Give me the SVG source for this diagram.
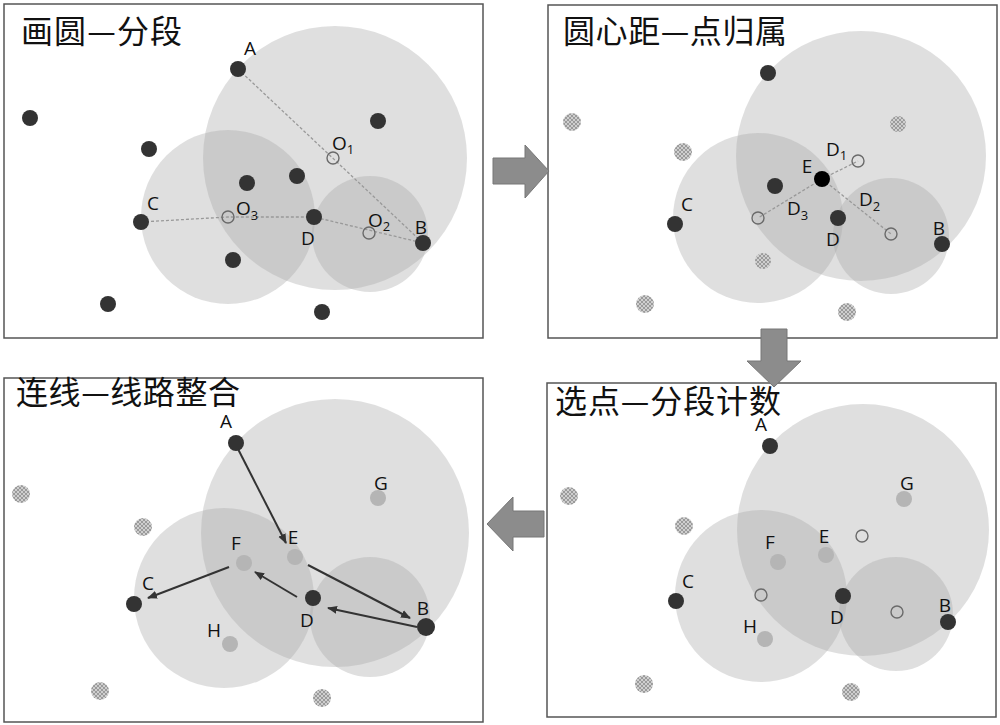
<svg xmlns="http://www.w3.org/2000/svg" width="1000" height="725" viewBox="0 0 1000 725">
<defs>
<style>
.frame{fill:#fff;stroke:#555;stroke-width:1.5}
.zone{fill:#a6a6a6;fill-opacity:0.36}
.dk{fill:#333}
.lt{fill:#b5b5b5}
.ht{fill:url(#hatch)}
.oc{fill:none;stroke:#6a6a6a;stroke-width:1.4}
.dash{stroke:#999;stroke-width:1.3;stroke-dasharray:3,2;fill:none}
.lbl{font-family:"Open Sans","Noto Sans",sans-serif;font-size:19px;fill:#111}
.sub{font-size:13px}
.ttl{font-family:"Noto Sans CJK SC","Noto Sans",sans-serif;font-size:32px;fill:#111}
.conn{stroke:#333;stroke-width:2;fill:none;marker-end:url(#ah)}
.blk{fill:#8c8c8c;stroke:#777;stroke-width:1}
</style>
<pattern id="hatch" patternUnits="userSpaceOnUse" width="4" height="4">
<rect width="4" height="4" fill="#cfcfcf"/>
<path d="M0,4 L4,0 M0,0 L4,4" stroke="#8e8e8e" stroke-width="0.8"/>
</pattern>
<marker id="ah" viewBox="0 0 10 10" refX="9" refY="5" markerWidth="5" markerHeight="5" orient="auto">
<path d="M0,1 L10,5 L0,9 Z" fill="#333"/>
</marker>
</defs>

<g id="panel1">
<rect class="frame" x="4" y="4" width="479" height="334"/>
<text class="ttl" x="21" y="43" textLength="161" lengthAdjust="spacing">画圆—分段</text>
<circle class="zone" cx="335" cy="158" r="132"/>
<circle class="zone" cx="228" cy="217" r="87"/>
<circle class="zone" cx="370" cy="234" r="58"/>
<g id="p1-lines">
<line class="dash" x1="238" y1="69" x2="423" y2="243"/>
<polyline class="dash" points="141,222 228,217 314,217 423,243"/>
</g>
<g id="p1-A"><circle class="dk" cx="238" cy="69" r="8"/><text class="lbl" x="250" y="55" text-anchor="middle">A</text></g>
<circle class="dk" cx="30" cy="118" r="8"/>
<circle class="dk" cx="149" cy="149" r="8"/>
<circle class="dk" cx="378" cy="121" r="8"/>
<circle class="dk" cx="247" cy="183" r="8"/>
<circle class="dk" cx="297" cy="176" r="8"/>
<g id="p1-C"><circle class="dk" cx="141" cy="222" r="8"/><text class="lbl" x="153" y="210" text-anchor="middle">C</text></g>
<g id="p1-D"><circle class="dk" cx="314" cy="217" r="8"/><text class="lbl" x="308" y="245" text-anchor="middle">D</text></g>
<g id="p1-B"><circle class="dk" cx="423" cy="243" r="8"/><text class="lbl" x="421" y="234" text-anchor="middle">B</text></g>
<circle class="dk" cx="233" cy="260" r="8"/>
<circle class="dk" cx="108" cy="304" r="8"/>
<circle class="dk" cx="322" cy="312" r="8"/>
<g id="p1-O1"><circle class="oc" cx="333" cy="158" r="6"/><text class="lbl" x="332" y="150">O<tspan class="sub" dy="4">1</tspan></text></g>
<g id="p1-O2"><circle class="oc" cx="369" cy="233" r="6"/><text class="lbl" x="368" y="227">O<tspan class="sub" dy="4">2</tspan></text></g>
<g id="p1-O3"><circle class="oc" cx="228" cy="217" r="6"/><text class="lbl" x="236" y="215">O<tspan class="sub" dy="5">3</tspan></text></g>
</g>

<g id="panel2">
<rect class="frame" x="548" y="5" width="449" height="333"/>
<text class="ttl" x="563" y="43" textLength="224" lengthAdjust="spacing">圆心距—点归属</text>
<circle class="zone" cx="861" cy="156" r="125"/>
<circle class="zone" cx="758" cy="218" r="85"/>
<circle class="zone" cx="891" cy="236" r="58"/>
<g id="p2-lines">
<line class="dash" x1="822" y1="179" x2="858" y2="161"/>
<line class="dash" x1="822" y1="179" x2="891" y2="234"/>
<line class="dash" x1="822" y1="179" x2="758" y2="218"/>
</g>
<circle class="dk" cx="768" cy="73" r="8"/>
<circle class="ht" cx="572" cy="122" r="9"/>
<circle class="ht" cx="683" cy="152" r="9"/>
<circle class="ht" cx="898" cy="124" r="8"/>
<circle class="dk" cx="775" cy="186" r="8"/>
<g id="p2-C"><circle class="dk" cx="675" cy="224" r="8"/><text class="lbl" x="687" y="211" text-anchor="middle">C</text></g>
<g id="p2-D"><circle class="dk" cx="838" cy="218" r="8"/><text class="lbl" x="833" y="246" text-anchor="middle">D</text></g>
<g id="p2-B"><circle class="dk" cx="942" cy="244" r="8"/><text class="lbl" x="939" y="235" text-anchor="middle">B</text></g>
<circle class="ht" cx="763" cy="261" r="8"/>
<circle class="ht" cx="645" cy="304" r="9"/>
<circle class="ht" cx="847" cy="312" r="9"/>
<g id="p2-O1"><circle class="oc" cx="858" cy="161" r="6"/><text class="lbl" x="826" y="156">D<tspan class="sub" dy="4">1</tspan></text></g>
<g id="p2-O2"><circle class="oc" cx="891" cy="234" r="6"/><text class="lbl" x="859" y="206">D<tspan class="sub" dy="5">2</tspan></text></g>
<g id="p2-O3"><circle class="oc" cx="758" cy="218" r="6"/><text class="lbl" x="787" y="215">D<tspan class="sub" dy="5">3</tspan></text></g>
<g id="p2-E"><circle cx="822" cy="179" r="8" fill="#000"/><text class="lbl" x="807" y="173" text-anchor="middle">E</text></g>
</g>

<g id="panel3">
<rect class="frame" x="4" y="378" width="479" height="344"/>
<text class="ttl" x="16" y="404" textLength="224" lengthAdjust="spacing">连线—线路整合</text>
<circle class="zone" cx="335" cy="533" r="134"/>
<circle class="zone" cx="224" cy="598" r="90"/>
<circle class="zone" cx="370" cy="617" r="60"/>
<circle class="ht" cx="21" cy="494" r="9"/>
<circle class="ht" cx="143" cy="527" r="9"/>
<circle class="ht" cx="100" cy="691" r="9"/>
<circle class="ht" cx="322" cy="698" r="9"/>
<g id="p3-A"><circle class="dk" cx="236" cy="443" r="8"/><text class="lbl" x="226" y="428" text-anchor="middle">A</text></g>
<g id="p3-G"><circle class="lt" cx="378" cy="498" r="8"/><text class="lbl" x="381" y="490" text-anchor="middle">G</text></g>
<g id="p3-E"><circle class="lt" cx="295" cy="557" r="8"/><text class="lbl" x="293" y="544" text-anchor="middle">E</text></g>
<g id="p3-F"><circle class="lt" cx="244" cy="563" r="8"/><text class="lbl" x="236" y="550" text-anchor="middle">F</text></g>
<g id="p3-C"><circle class="dk" cx="134" cy="604" r="8"/><text class="lbl" x="148" y="590" text-anchor="middle">C</text></g>
<g id="p3-D"><circle class="dk" cx="313" cy="598" r="8"/><text class="lbl" x="307" y="627" text-anchor="middle">D</text></g>
<g id="p3-B"><circle class="dk" cx="426" cy="627" r="9"/><text class="lbl" x="423" y="615" text-anchor="middle">B</text></g>
<g id="p3-H"><circle class="lt" cx="230" cy="644" r="8"/><text class="lbl" x="214" y="637" text-anchor="middle">H</text></g>
<g id="p3-connectors">
<line class="conn" x1="238" y1="449" x2="286" y2="543"/>
<line class="conn" x1="308" y1="565" x2="410" y2="618"/>
<line class="conn" x1="417" y1="627" x2="328" y2="608"/>
<line class="conn" x1="297" y1="597" x2="255" y2="572"/>
<line class="conn" x1="229" y1="567" x2="148" y2="598"/>
</g>
</g>

<g id="panel4">
<rect class="frame" x="547" y="383" width="449" height="334"/>
<circle class="zone" cx="863" cy="530" r="126"/>
<circle class="zone" cx="761" cy="596" r="86"/>
<circle class="zone" cx="896" cy="614" r="57"/>
<circle class="ht" cx="569" cy="496" r="9"/>
<circle class="ht" cx="684" cy="526" r="9"/>
<circle class="ht" cx="644" cy="684" r="9"/>
<circle class="ht" cx="851" cy="692" r="9"/>
<circle class="oc" cx="862" cy="536" r="6"/>
<circle class="oc" cx="761" cy="595" r="6"/>
<circle class="oc" cx="897" cy="612" r="6"/>
<g id="p4-A"><circle class="dk" cx="770" cy="446" r="8"/><text class="lbl" x="761" y="431" text-anchor="middle">A</text></g>
<g id="p4-G"><circle class="lt" cx="904" cy="499" r="8"/><text class="lbl" x="907" y="490" text-anchor="middle">G</text></g>
<g id="p4-E"><circle class="lt" cx="826" cy="555" r="8"/><text class="lbl" x="824" y="543" text-anchor="middle">E</text></g>
<g id="p4-F"><circle class="lt" cx="778" cy="562" r="8"/><text class="lbl" x="770" y="549" text-anchor="middle">F</text></g>
<g id="p4-C"><circle class="dk" cx="676" cy="601" r="8"/><text class="lbl" x="688" y="588" text-anchor="middle">C</text></g>
<g id="p4-D"><circle class="dk" cx="843" cy="596" r="8"/><text class="lbl" x="837" y="624" text-anchor="middle">D</text></g>
<g id="p4-B"><circle class="dk" cx="948" cy="622" r="8"/><text class="lbl" x="945" y="612" text-anchor="middle">B</text></g>
<g id="p4-H"><circle class="lt" cx="765" cy="639" r="8"/><text class="lbl" x="750" y="633" text-anchor="middle">H</text></g>
<text class="ttl" x="555" y="413" textLength="226" lengthAdjust="spacing">选点—分段计数</text>
</g>

<g id="connectors">
<polygon class="blk" points="493,158 525,158 525,145 549,171 525,198 525,184 493,184"/>
<polygon class="blk" points="761,329 787,329 787,361 801,361 774,387 747,361 761,361"/>
<polygon class="blk" points="544,511 513,511 513,497 487,524 513,551 513,537 544,537"/>
</g>
</svg>
